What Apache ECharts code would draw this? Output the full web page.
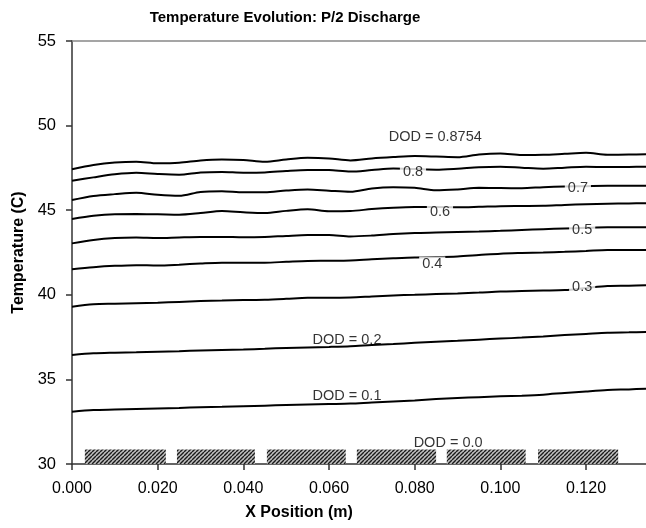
<!DOCTYPE html>
<html><head><meta charset="utf-8">
<script src="https://cdn.jsdelivr.net/npm/echarts/dist/echarts.min.js"></script>
<style>html,body{margin:0;padding:0;background:#fff}#c{width:646px;height:528px}</style>
</head><body><div id="c"></div>
<script>
// ---- data ----
const xPos = [0,0.005,0.010,0.015,0.020,0.025,0.030,0.035,0.040,0.045,0.050,0.055,0.060,0.065,0.070,0.075,0.080,0.085,0.090,0.095,0.100,0.105,0.110,0.115,0.120,0.125,0.130,0.134];
const dod08754 = [47.42,47.67,47.82,47.87,47.77,47.80,47.94,48.00,47.97,47.86,48.00,48.10,48.06,47.94,48.06,48.14,48.20,48.17,48.13,48.29,48.35,48.26,48.27,48.33,48.39,48.28,48.29,48.30];
const dod08 = [46.74,46.94,47.12,47.21,47.14,47.10,47.23,47.26,47.22,47.23,47.32,47.38,47.37,47.28,47.37,47.46,47.43,47.39,47.45,47.54,47.57,47.51,47.45,47.51,47.57,47.55,47.56,47.57];
const dod07 = [45.60,45.84,45.95,46.03,45.91,45.85,46.08,46.12,46.06,46.06,46.16,46.22,46.15,46.09,46.28,46.35,46.32,46.18,46.23,46.32,46.31,46.30,46.36,46.40,46.42,46.44,46.44,46.45];
const dod06 = [44.48,44.67,44.76,44.77,44.76,44.73,44.83,44.96,44.88,44.83,44.96,45.05,44.94,44.95,45.07,45.15,45.19,45.19,45.17,45.20,45.24,45.25,45.26,45.31,45.35,45.38,45.40,45.41];
const dod05 = [43.04,43.24,43.35,43.38,43.35,43.39,43.42,43.42,43.40,43.42,43.48,43.53,43.53,43.45,43.50,43.59,43.65,43.68,43.71,43.74,43.78,43.83,43.88,43.92,43.96,43.99,43.99,43.99];
const dod04 = [41.51,41.63,41.71,41.75,41.73,41.78,41.85,41.90,41.90,41.90,41.95,42.00,42.01,42.03,42.10,42.16,42.21,42.23,42.27,42.35,42.43,42.47,42.50,42.54,42.59,42.65,42.65,42.65];
const dod03 = [39.30,39.44,39.47,39.50,39.53,39.58,39.63,39.66,39.69,39.71,39.76,39.82,39.82,39.84,39.90,39.96,40.00,40.04,40.08,40.13,40.19,40.22,40.25,40.28,40.40,40.52,40.54,40.57];
const dod02 = [36.44,36.54,36.58,36.61,36.64,36.67,36.71,36.74,36.77,36.81,36.86,36.89,36.92,36.96,37.03,37.09,37.16,37.22,37.28,37.35,37.41,37.47,37.54,37.62,37.69,37.76,37.78,37.80];
const dod01 = [33.09,33.19,33.22,33.25,33.28,33.31,33.36,33.39,33.42,33.45,33.48,33.51,33.54,33.57,33.64,33.70,33.76,33.84,33.90,33.95,34.00,34.04,34.10,34.20,34.29,34.37,34.41,34.45];
const curveList = [dod08754, dod08, dod07, dod06, dod05, dod04, dod03, dod02, dod01];

const labelTexts = ['DOD = 0.8754','0.8','0.7','0.6','0.5','0.4','0.3','DOD = 0.2','DOD = 0.1','DOD = 0.0'];
const labelX = [0.0848,0.0796,0.1181,0.0859,0.1191,0.0841,0.1191,0.0642,0.0642,0.0878];
const labelY = [49.33,47.26,46.31,44.89,43.83,41.82,40.46,37.33,34.02,31.24];
const labelCutsLine = [false,true,true,true,true,true,true,false,false,false];

const cellStart = [0.0030,0.0245,0.0455,0.0665,0.0875,0.1088];
const cellEnd   = [0.0219,0.0427,0.0639,0.0850,0.1059,0.1275];
const cellTop = 30.85;
const cellBase = 30;

const xTickFormatDigits = 3;

// ---- chart ----
const FONT = '"Liberation Sans", Arial, sans-serif';
const pc = document.createElement('canvas');
pc.width = 4; pc.height = 4;
const g = pc.getContext('2d');
g.fillStyle = '#c0c0c0'; g.fillRect(0,0,4,4);
g.strokeStyle = '#1a1a1a'; g.lineWidth = 1.4;
for (const o of [-4,0,4]) { g.beginPath(); g.moveTo(o,4); g.lineTo(o+4,0); g.stroke(); }

const chart = echarts.init(document.getElementById('c'), null, {renderer:'canvas'});
const series = curveList.map(d => ({
  type:'line', data: xPos.map((x,i)=>[x,d[i]]), symbol:'none', smooth:0.3,
  lineStyle:{color:'#000', width:2}, z:2, silent:true
}));
series.push({
  type:'custom', z:3, silent:true,
  data: cellStart.map((s,i)=>[s, cellEnd[i]]),
  renderItem(params, api){
    const p0 = api.coord([api.value(0), cellTop]);
    const p1 = api.coord([api.value(1), cellBase]);
    return {type:'rect', shape:{x:p0[0], y:p0[1], width:p1[0]-p0[0], height:p1[1]-p0[1]},
      style:{fill:{image:pc, repeat:'repeat'}}};
  }
});
series.push({
  type:'scatter', z:5, silent:true, symbolSize:0,
  data: labelTexts.map((t,i)=>({value:[labelX[i], labelY[i]], name:t,
    label:{backgroundColor: labelCutsLine[i] ? '#fff' : 'transparent', padding:[0,3,0,3]}})),
  label:{show:true, position:'inside', formatter: p=>p.name, color:'#000',
    fontFamily:FONT, fontSize:14.5}
});

chart.setOption({
  animation:false,
  grid:{left:72, right:0, top:41, bottom:64},
  xAxis:[{
    type:'value', min:0, max:0.134, interval:0.02,
    axisLine:{lineStyle:{color:'#333', width:1.5}},
    axisTick:{show:true, length:6, lineStyle:{color:'#333', width:1.5}},
    axisLabel:{color:'#000', fontFamily:FONT, fontSize:16, margin:17, showMaxLabel:false,
      formatter: v => v.toFixed(xTickFormatDigits)},
    splitLine:{show:false}
  },{
    type:'value', position:'top', min:0, max:0.134,
    axisLine:{show:true, lineStyle:{color:'#888', width:1.5}},
    axisTick:{show:false}, axisLabel:{show:false}, splitLine:{show:false}
  }],
  yAxis:{
    type:'value', min:30, max:55, interval:5,
    name:'Temperature (C)', nameLocation:'middle', nameGap:39,
    nameTextStyle:{color:'#000', fontFamily:FONT, fontSize:16, fontWeight:'bold'},
    axisLine:{show:true, lineStyle:{color:'#333', width:1.5}},
    axisTick:{show:true, length:6, lineStyle:{color:'#333', width:1.5}},
    axisLabel:{color:'#000', fontFamily:FONT, fontSize:16.5, margin:16},
    splitLine:{show:false}
  },
  graphic:[
    {type:'text', x:285, y:18, style:{text:'Temperature Evolution: P/2 Discharge', x:0, y:0,
      align:'center', verticalAlign:'middle', font:'bold 15px '+FONT, fill:'#000'}},
    {type:'text', x:299, y:513, style:{text:'X Position (m)', x:0, y:0,
      align:'center', verticalAlign:'middle', font:'bold 16px '+FONT, fill:'#000'}}
  ],
  series
});
</script>
</body></html>
